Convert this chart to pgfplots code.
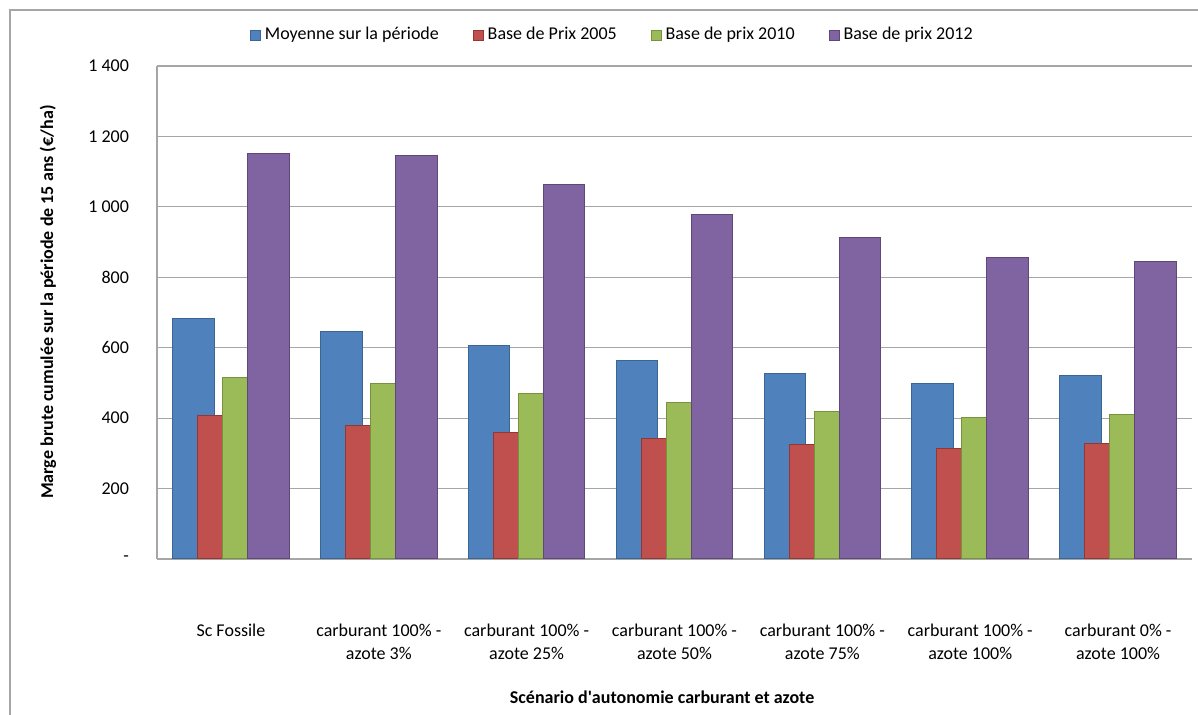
\documentclass[border=0pt]{standalone}
\usepackage{fontspec}
\setmainfont{Carlito}
\usepackage{pgfplots}
\pgfplotsset{compat=1.18}
\definecolor{cBlue}{HTML}{4F81BD}
\definecolor{cRed}{HTML}{C0504D}
\definecolor{cGreen}{HTML}{9BBB59}
\definecolor{cPurple}{HTML}{8064A2}
\definecolor{eBlue}{HTML}{3A6595}
\definecolor{eRed}{HTML}{943634}
\definecolor{eGreen}{HTML}{76923C}
\definecolor{ePurple}{HTML}{5F4879}
\definecolor{gridc}{HTML}{A6A6A6}
\begin{document}
\begin{tikzpicture}
\useasboundingbox (0,0) rectangle (599pt,357.5pt);
\draw[gridc, line width=0.8pt] (5pt,0) -- (5pt,352.5pt) -- (599pt,352.5pt);
\begin{axis}[
  at={(78.5pt,78pt)}, anchor=south west,
  scale only axis, width=517.5pt, height=246.5pt,
  xmin=-0.5, xmax=6.5, ymin=0, ymax=1400,
  ytick={0,200,400,600,800,1000,1200,1400},
  yticklabels={-\hspace{4pt},200,400,600,800,1 000,1 200,1 400},
  xtick={0,1,2,3,4,5,6},
  xticklabels={Sc Fossile,carburant 100\% -\\azote 3\%,carburant 100\% -\\azote 25\%,carburant 100\% -\\azote 50\%,carburant 100\% -\\azote 75\%,carburant 100\% -\\azote 100\%,carburant 0\% -\\azote 100\%},
  major tick length=0pt,
  ymajorgrids, grid style={gridc, line width=0.6pt},
  axis x line*=bottom, axis y line*=left,
  axis line style={gridc, line width=0.8pt, -},
  tick label style={font=\fontsize{9}{11.5}\selectfont, text=black},
  yticklabel style={anchor=east, xshift=-10.5pt},
  xticklabel style={anchor=north, align=center, yshift=-29pt},
  ylabel={Marge brute cumulée sur la période de 15 ans (€/ha)},
  ylabel style={at={(axis description cs:-0.1053,0.521)}, anchor=center, font=\fontsize{9}{11}\selectfont\bfseries},
  xlabel={Scénario d\textquotesingle autonomie carburant et azote},
  xlabel style={at={(axis description cs:0.488,-0.28)}, anchor=center, font=\fontsize{9}{11}\selectfont\bfseries},
  bar width=20.85pt,
  legend columns=4,
  legend style={at={(axis description cs:0.4410,1.0629)}, anchor=center, draw=none, fill=none,
    font=\fontsize{9}{11}\selectfont, /tikz/every even column/.append style={column sep=15pt}},
  legend image code/.code={\draw[#1, line width=0.4pt] (0pt,-2.5pt) rectangle (5pt,2.5pt);},
]
\addplot[ybar, bar shift=-18.75pt, fill=cBlue, draw=eBlue, line width=0.5pt] coordinates {
 (0,682) (1,647) (2,605) (3,563) (4,526) (5,499) (6,520)};
\addlegendentry{Moyenne sur la période}
\addplot[ybar, bar shift=-6.25pt, fill=cRed, draw=eRed, line width=0.5pt] coordinates {
 (0,408) (1,380) (2,359) (3,342) (4,325) (5,313) (6,327)};
\addlegendentry{Base de Prix 2005}
\addplot[ybar, bar shift=6.25pt, fill=cGreen, draw=eGreen, line width=0.5pt] coordinates {
 (0,515) (1,499) (2,470) (3,445) (4,420) (5,402) (6,409)};
\addlegendentry{Base de prix 2010}
\addplot[ybar, bar shift=18.75pt, fill=cPurple, draw=ePurple, line width=0.5pt] coordinates {
 (0,1151) (1,1145) (2,1063) (3,978) (4,914) (5,857) (6,846)};
\addlegendentry{Base de prix 2012}
\end{axis}
\end{tikzpicture}
\end{document}
